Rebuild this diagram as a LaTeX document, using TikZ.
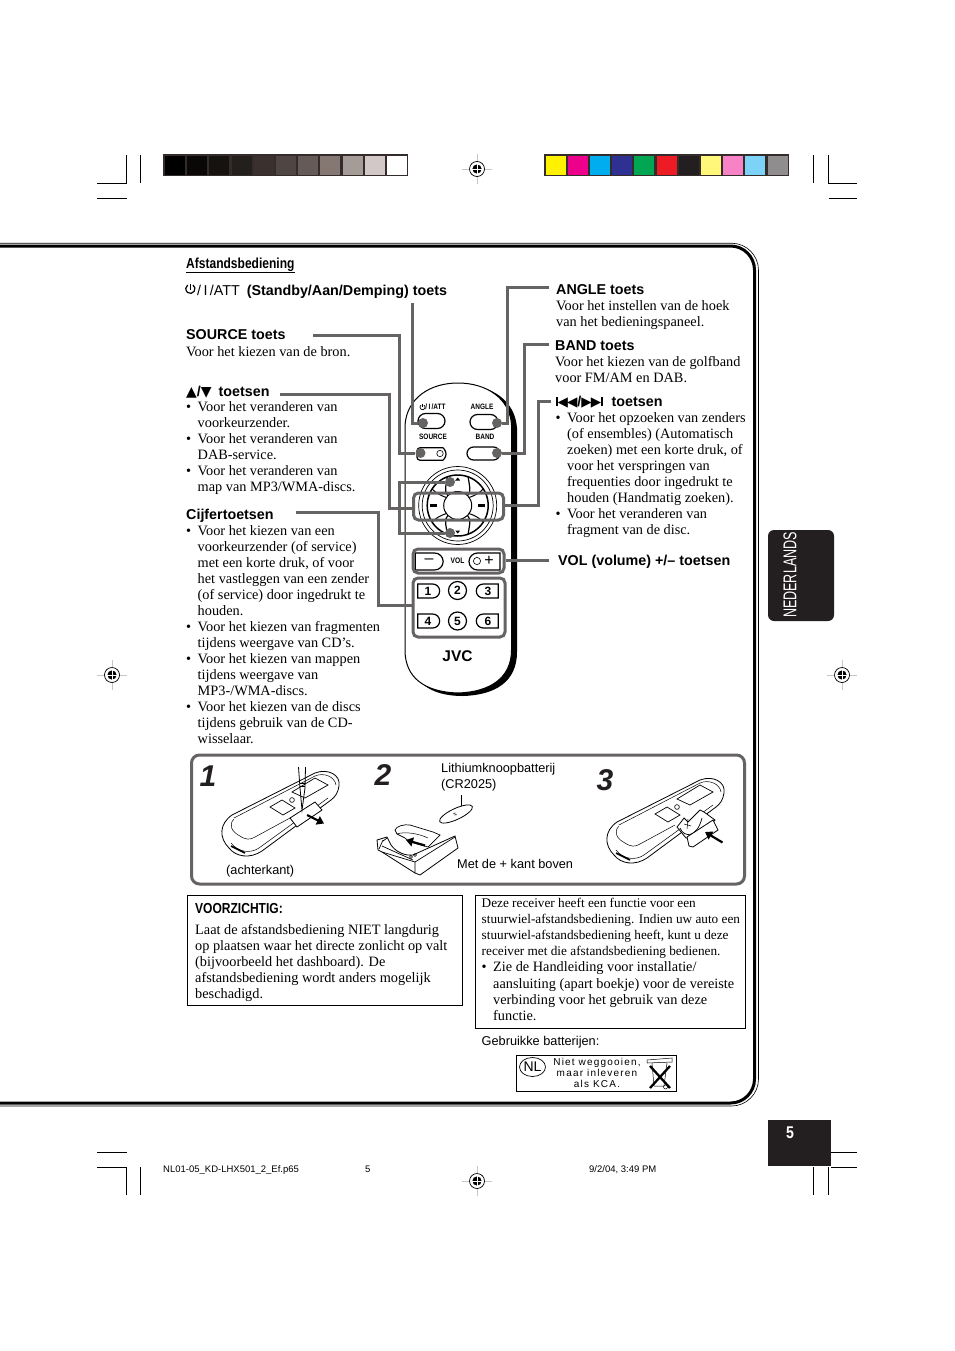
\documentclass[tikz,border=0pt]{standalone}
\usepackage{fontspec}
\usetikzlibrary{shapes.misc,shapes.geometric,arrows.meta}
\setmainfont{Liberation Serif}
\setsansfont{Liberation Sans}
\newfontfamily\dejavu{DejaVu Sans}
\newfontfamily\narrowb[FakeStretch=0.83]{Liberation Sans Bold}
\newfontfamily\narrowr[FakeStretch=0.68]{Liberation Sans}
\newfontfamily\kcafont[LetterSpace=12]{Liberation Sans}
\newfontfamily\bigit{Liberation Sans Bold Italic}
\newcommand{\bu}{\makebox[11.5pt][l]{•}}
\newcommand{\ind}{\hspace*{11.5pt}}
\newcommand{\tri}[1]{{\dejavu\fontsize{14}{14}\selectfont #1}}
\newcommand{\trs}[1]{{\dejavu\fontsize{13.5}{13}\selectfont #1}}
\newcommand{\tgt}[1]{{\fontsize{13.25}{16}\selectfont #1}}
\definecolor{conn}{HTML}{666363}
\definecolor{ink}{HTML}{231F20}
\definecolor{barf}{HTML}{332C2B}
\tikzset{
  x=1pt,y=-1pt,
  body/.style={font=\fontsize{14.3}{16}\selectfont,anchor=north west,inner sep=0pt,align=left,execute at begin node=\rule{0pt}{11pt}},
  head/.style={font=\fontsize{14.3}{16}\selectfont\sffamily\bfseries,anchor=base west,inner sep=0pt},
  small/.style={font=\fontsize{12.75}{16}\selectfont\sffamily,anchor=base west,inner sep=0pt},
  foot/.style={font=\fontsize{9.5}{10}\selectfont\sffamily,anchor=base west,inner sep=0pt},
  wire/.style={draw=conn,line width=3pt,line join=miter},
  frameb/.style={draw=conn,line width=3pt,rounded corners=5pt,fill=none},
  wdot/.style={circle,fill=conn,inner sep=0pt,minimum size=10pt},
  crop/.style={line width=0.8pt,draw=black},
  btn/.style={draw=black,line width=1.2pt,fill=white,rounded rectangle,inner sep=0pt,font=\fontsize{12}{12}\selectfont\sffamily\bfseries},
  rlabel/.style={inner sep=0pt,font=\fontsize{7.8}{8}\selectfont\narrowb},
  swatch/.style={minimum width=20pt,minimum height=19.5pt,inner sep=0pt,anchor=north west},
  hand/.style={line width=0.8pt,draw=black},
  bigarrow/.style={line width=2.2pt,-{Triangle[length=7pt,width=9pt]}},
  numeral/.style={font=\fontsize{30}{30}\selectfont\bigit,inner sep=0pt,text=ink},
}
\newcommand{\regmark}[2]{%
  \begin{scope}[shift={(#1,#2)}]
    \draw[line width=0.9pt,draw=black!22] (-15,0) -- (15,0) (0,-15) -- (0,15);
    \draw[line width=0.7pt,fill=white] (0,0) circle (7.5);
    \fill[black] (0,0) circle (4.6);
    \draw[white,line width=0.8pt] (-5,0) -- (5,0) (0,-5) -- (0,5);
  \end{scope}}
% remote seen from the back; drawn at the position of step 1, moved by #1,#2
\newcommand{\backremote}[2]{%
  \begin{scope}[shift={(#1,#2)}]
    \draw[hand,fill=white] (232,815) -- (315,773) .. controls (328,768) and (341,775) .. (339,786) .. controls (338,793) and (335,797) .. (331,800) -- (262,851) .. controls (250,859) and (236,857) .. (229,848) .. controls (219,838) and (219,824) .. (232,815) -- cycle;
    \draw[line width=0.5pt] (234,818) -- (315,776) .. controls (324,772) and (335,777) .. (336,785);
    \draw[line width=0.5pt] (234,819) .. controls (228,825) and (232,832) .. (240,836) .. controls (246,840) and (250,840) .. (255,837) -- (290,818);
    \draw[line width=0.5pt] (231,843) .. controls (238,852) and (250,854) .. (259,848) -- (328,798);
    \draw[line width=1.6pt] (231,846) -- (245,853);
    \draw[line width=0.7pt] (292,792) -- (315,778) -- (328,785) -- (305,798) -- cycle;
    \draw[line width=0.7pt] (270,807) -- (282,800) -- (295,808) -- (283,815) -- cycle;
    \draw[line width=0.6pt] (292,800) circle (2.4);
  \end{scope}}
\begin{document}
\begin{tikzpicture}
\useasboundingbox (0,0) rectangle (954,1351);
\fill[white] (0,0) rectangle (954,1351);

% colour bars
\fill[barf] (163,154) rectangle (408,176);
\foreach \i/\c in {0/000000,1/0A0807,2/151210,3/231F1D,4/3A302D,5/4F4542,6/665A56,7/857872,8/A59B97,9/D1C8C7,10/FFFFFF}{
  \definecolor{sw}{HTML}{\c}
  \node[swatch,fill=sw] (gs\i) at ({164.7+22.2*\i},155.7) {};
}
\fill[barf] (544,154) rectangle (789,176);
\foreach \i/\c in {0/FFF200,1/EC008C,2/00AEEF,3/2E3192,4/00A651,5/ED1C24,6/231F20,7/FFF77A,8/F782C5,9/7DD3F7,10/8F8D8E}{
  \definecolor{sw}{HTML}{\c}
  \node[swatch,fill=sw] (cs\i) at ({545.3+22.2*\i},155.7) {};
}
% crop marks
\draw[crop] (126.5,155) -- (126.5,183.5) -- (97,183.5);
\draw[crop] (140.5,155) -- (140.5,183);
\draw[crop] (97,198.5) -- (126.5,198.5);
\draw[crop] (813.5,155) -- (813.5,183);
\draw[crop] (828.5,155) -- (828.5,183.5) -- (857,183.5);
\draw[crop] (828.5,198.5) -- (857,198.5);
\draw[crop] (97,1152) -- (126.5,1152);
\draw[crop] (97,1167) -- (126.5,1167) -- (126.5,1195);
\draw[crop] (140.5,1167) -- (140.5,1195);
\draw[crop] (831,1152) -- (857,1152);
\draw[crop] (831,1167) -- (857,1167);
\draw[crop] (813.5,1167) -- (813.5,1195);
\draw[crop] (828.5,1167) -- (828.5,1195);
\regmark{477}{169}
\regmark{477}{1181}
\regmark{112}{675}
\regmark{842}{675}

% page frame
\draw[line width=3pt,rounded corners=24pt] (0,246) -- (754.5,246) -- (754.5,1103) -- (0,1103);
\draw[line width=0.6pt,rounded corners=27pt] (0,243.2) -- (758.5,243.2) -- (758.5,1106) -- (0,1106);

% side tab
\node[draw=none,fill=ink,rounded corners=6pt,minimum width=66pt,minimum height=91pt,inner sep=0pt] (tab) at (801,575.5) {};
\node[rotate=90,text=white,inner sep=0pt,font=\fontsize{18.5}{20}\selectfont\narrowr] (tabt) at (790,575) {NEDERLANDS};
\node[fill=ink,minimum width=63pt,minimum height=46pt,inner sep=0pt,anchor=north west] (pg) at (768,1120) {};
\node[text=white,inner sep=0pt,font=\fontsize{17}{18}\selectfont\narrowb] (pgt) at (790,1133) {5};
\node[foot] (f1) at (163,1172.5) {NL01-05\_KD-LHX501\_2\_Ef.p65};
\node[foot] (f2) at (365,1172.5) {5};
\node[foot] (f3) at (589,1172.5) {9/2/04, 3:49 PM};

% heading
\node[inner sep=0pt,anchor=base west,font=\fontsize{14.5}{16}\selectfont\narrowb] (title) at (186,268) {Afstandsbediening};
\draw[line width=0.8pt] (186,272.5) -- (295,272.5);

% left column
\draw[line width=1.2pt] (193,285) arc[start angle=-55,end angle=235,radius=4.6];
\draw[line width=1.2pt] (190.4,283.5) -- (190.4,290);
\node[small,font=\fontsize{14.3}{16}\selectfont\sffamily] (stby) at (197,295) {/\,I\,/ATT\hspace{3pt} \textbf{(Standby/Aan/Demping) toets}};
\node[head] (srch) at (186,339) {SOURCE toets};
\node[body] (srct) at (186,345) {Voor het kiezen van de bron.};
\node[head] (trih) at (186,396) {\tri{▲}/\tri{▼}\hspace{3pt} toetsen};
\node[body] (trit) at (186,401) {\bu Voor het veranderen van\\ \ind voorkeurzender.\\ \bu Voor het veranderen van\\ \ind DAB-service.\\ \bu Voor het veranderen van\\ \ind map van MP3/WMA-discs.};
\node[head] (numh) at (186,519) {Cijfertoetsen};
\node[body] (numt) at (186,525) {\bu Voor het kiezen van een\\ \ind voorkeurzender (of service)\\ \ind met een korte druk, of voor\\ \ind het vastleggen van een zender\\ \ind (of service) door ingedrukt te\\ \ind houden.\\ \bu Voor het kiezen van fragmenten\\ \ind tijdens weergave van CD’s.\\ \bu Voor het kiezen van mappen\\ \ind tijdens weergave van\\ \ind MP3-/WMA-discs.\\ \bu Voor het kiezen van de discs\\ \ind tijdens gebruik van de CD-\\ \ind wisselaar.};

% right column
\node[head] (angh) at (556,294) {ANGLE toets};
\node[body] (angt) at (556,300) {Voor het instellen van de hoek\\van het bedieningspaneel.};
\node[head] (banh) at (555,350) {BAND toets};
\node[body] (bant) at (555,356) {Voor het kiezen van de golfband\\voor FM/AM en DAB.};
\node[head] (skih) at (556,406) {\rule{1.5pt}{9pt}\trs{◀\kern-1pt◀}/\trs{▶\kern-1pt▶}\rule{1.5pt}{9pt}\hspace{5pt} toetsen};
\node[body] (skit) at (555.5,412) {\bu Voor het opzoeken van zenders\\ \ind (of ensembles) (Automatisch\\ \ind zoeken) met een korte druk, of\\ \ind voor het verspringen van\\ \ind frequenties door ingedrukt te\\ \ind houden (Handmatig zoeken).\\ \bu Voor het veranderen van\\ \ind fragment van de disc.};
\node[head] (volh) at (558,565) {VOL (volume) +/– toetsen};

% remote
\fill[black] (410,652) -- (410,428) .. controls (412,400) and (435,385) .. (463,385) .. controls (491,385) and (515,400) .. (517,428) -- (517,652) .. controls (517,682) and (495,695) .. (463,696) .. controls (430,696) and (410,682) .. (410,652) -- cycle;
\draw[line width=1pt,fill=white] (405,650) -- (405,425) .. controls (407,398) and (430,383) .. (458,383) .. controls (486,383) and (510,398) .. (511.5,425) -- (511.5,650) .. controls (511.5,678) and (490,692) .. (458,693) .. controls (425,692) and (405,678) .. (405,650) -- cycle;
\node[rlabel] (lbs) at (435.5,407) {/\,I\,/ATT};
\draw[line width=0.7pt] (424,405) arc[start angle=-55,end angle=235,radius=2.6];
\draw[line width=0.7pt] (422.5,404) -- (422.5,407);
\node[rlabel] (lba) at (482,407) {ANGLE};
\node[rlabel] (lbo) at (433,437) {SOURCE};
\node[rlabel] (lbb) at (485,437) {BAND};
\node[btn,minimum width=27pt,minimum height=15pt] (bstby) at (431.5,421) {};
\node[btn,minimum width=28pt,minimum height=15pt] (bang) at (484,422) {};
\node[btn,minimum width=29pt,minimum height=12.5pt,rounded rectangle left arc=none,rounded corners=3pt] (bsrc) at (431.5,454) {};
\draw[line width=0.6pt] (440,453.5) circle (3.2);
\node[btn,minimum width=33pt,minimum height=13pt] (bband) at (483.5,453.5) {};
% d-pad
\begin{scope}[shift={(457.7,505.5)}]
  \draw[line width=0.7pt] (0,0) circle (39);
  \draw[line width=0.7pt] (0,0) circle (35.5);
  \draw[line width=1.5pt] (0,0) circle (30.5);
  \draw[line width=1pt,fill=white] (0,0) circle (14);
  \draw[line width=1.2pt] (45:14) .. controls (45:20) and (62:24) .. (70:30.5);
  \draw[line width=1.2pt] (135:14) .. controls (135:20) and (118:24) .. (110:30.5);
  \draw[line width=1.2pt] (225:14) .. controls (225:20) and (242:24) .. (250:30.5);
  \draw[line width=1.2pt] (315:14) .. controls (315:20) and (298:24) .. (290:30.5);
  \draw[line width=1pt] (35:14) .. controls (30:20) and (30:26) .. (33:30.5);
  \draw[line width=1pt] (145:14) .. controls (150:20) and (150:26) .. (147:30.5);
  \draw[line width=1pt] (215:14) .. controls (210:20) and (210:26) .. (213:30.5);
  \draw[line width=1pt] (325:14) .. controls (330:20) and (330:26) .. (327:30.5);
  \fill (-2.5,-25) -- (2.5,-25) -- (0,-28) -- cycle;
  \fill (-2.5,25) -- (2.5,25) -- (0,28) -- cycle;
  \fill (-27.5,-1.2) rectangle (-20.5,1.2);
  \fill (20.5,-1.2) rectangle (27.5,1.2);
\end{scope}
% volume
\node[btn,minimum width=28pt,minimum height=17pt,rounded rectangle left arc=none,font=\fontsize{16}{16}\selectfont\sffamily] (bmin) at (429,561.5) {--};
\node[rlabel,font=\fontsize{8}{8}\selectfont\narrowb] (lbv) at (457.5,561) {VOL};
\node[btn,minimum width=31pt,minimum height=17pt,rounded rectangle right arc=none] (bpls) at (484.5,561.5) {};
\draw[line width=0.6pt] (477,561) circle (3.6);
\node[inner sep=0pt,font=\fontsize{16}{16}\selectfont\sffamily] (lbp) at (489,561) {+};
% number pad
\node[btn,minimum width=22pt,minimum height=14pt,rounded rectangle left arc=none] (n1) at (428,591) {1};
\node[btn,circle,minimum size=18pt] (n2) at (457.5,590.5) {2};
\node[btn,minimum width=22pt,minimum height=14pt,rounded rectangle right arc=none] (n3) at (488,591) {3};
\node[btn,minimum width=22pt,minimum height=14pt,rounded rectangle left arc=none] (n4) at (428,621) {4};
\node[btn,circle,minimum size=18pt] (n5) at (457.5,621) {5};
\node[btn,minimum width=22pt,minimum height=14pt,rounded rectangle right arc=none] (n6) at (488,621) {6};
\node[inner sep=0pt,font=\fontsize{15.5}{16}\selectfont\sffamily\bfseries] (jvc) at (457.5,656) {JVC};

% frames on remote
\node[frameb,minimum width=90pt,minimum height=27pt,inner sep=0pt] (fmid) at (458.5,506.5) {};
\node[frameb,minimum width=91pt,minimum height=24pt,inner sep=0pt] (fvol) at (458.5,561) {};
\node[frameb,minimum width=92pt,minimum height=59pt,inner sep=0pt] (fnum) at (459,607.5) {};

% connectors
\node[wdot] (dstby) at (423,423) {};
\node[wdot] (dang) at (497,423) {};
\node[wdot] (dsrc) at (420.5,453) {};
\node[wdot] (dband) at (497,453) {};
\node[wdot] (dup) at (450,482) {};
\node[wdot] (ddn) at (450,533) {};
\coordinate (c1) at (412,303);
\draw[wire] (c1) |- (dstby);
\coordinate (c2) at (313,335);
\coordinate (c2b) at (399,335);
\draw[wire] (c2) -- (c2b) |- (dsrc);
\coordinate (c3) at (280,394);
\coordinate (c3b) at (389.5,394);
\coordinate (c3c) at (389.5,508);
\coordinate (c3d) at (413.5,508);
\draw[wire] (c3) -- (c3b) -- (c3c) -- (c3d);
\coordinate (c4) at (399,482);
\coordinate (c4b) at (399,533);
\draw[wire] (dup) -- (c4) -- (c4b) -- (ddn);
\coordinate (c5) at (296,512);
\coordinate (c5b) at (378,512);
\coordinate (c5c) at (378,605);
\draw[wire] (c5) -- (c5b) -- (c5c) -- (fnum.west |- c5c);
\coordinate (c6) at (549,287);
\coordinate (c6b) at (507.5,287);
\draw[wire] (c6) -- (c6b) |- (dang);
\coordinate (c7) at (549,344);
\coordinate (c7b) at (524,344);
\draw[wire] (c7) -- (c7b) |- (dband);
\coordinate (c8) at (551,401);
\coordinate (c8b) at (538,401);
\coordinate (c8c) at (538,505.5);
\draw[wire] (c8) -- (c8b) -- (c8c) -- (fmid.east |- c8c);
\coordinate (c9) at (549,560);
\draw[wire] (c9) -- (fvol.east |- c9);

% battery panel
\node[draw=conn,line width=3pt,rounded corners=8pt,minimum width=553pt,minimum height=129pt,inner sep=0pt,anchor=north west] (panel) at (190,753.5) {};
\node[numeral] (s1) at (208,776) {1};
\node[numeral] (s2) at (383,775) {2};
\node[numeral] (s3) at (605,780) {3};
\node[small] (ach) at (226,874) {(achterkant)};
\node[small,align=left,anchor=north west,font=\fontsize{12.75}{16}\selectfont\sffamily,execute at begin node=\rule{0pt}{10pt}] (lit) at (441,763) {Lithiumknoopbatterij\\(CR2025)};
\node[small] (met) at (457,868) {Met de + kant boven};

% step 1
\backremote{0}{0}
\draw[hand,fill=white] (290,818) -- (315,802) -- (322,810) -- (297,827) -- cycle;
\draw[hand] (298.5,767) -- (300,788) -- (302,810) -- (305,788) -- (305.5,767);
\draw[line width=0.5pt] (300,783) -- (305,783) (300,786) -- (305,786);
\draw[bigarrow] (307,815) -- (324,823.5);

% step 2
\draw[hand,fill=white,rotate around={25:(456,814)}] (456,814) ellipse (18 and 5.5);
\draw[line width=0.5pt] (461.7,795) -- (461.7,806);
\draw[line width=0.4pt] (453,813) -- (457,815) (455,812) -- (455,816);
\draw[hand,fill=white] (377,840) -- (387,837) -- (391,845) .. controls (396,852) and (405,856) .. (413,855) -- (455,836) -- (458,848) -- (420,875) -- (415,873) -- (382,852) -- (378,850) -- cycle;
\draw[line width=0.7pt] (379,849) -- (383,840) (383,841) -- (387,838);
\draw[line width=0.7pt] (415,862) -- (455,837);
\draw[line width=0.7pt] (382,852) -- (415,862) -- (415,873);
\draw[line width=0.7pt] (382,846) -- (413,860);
\draw[line width=0.7pt,fill=white] (395,830) .. controls (396,826) and (405,824) .. (410,825) -- (433,832) -- (440,835) -- (428,847) .. controls (418,844) and (408,842) .. (405,838) -- (397,834) -- cycle;
\draw[line width=0.5pt] (397,834) .. controls (405,831) and (420,834) .. (428,838);
\draw[bigarrow] (425,845.5) -- (406,840);
\draw[line width=0.5pt] (415,855) circle (1.5) (411,857) circle (1.5);

% step 3
\backremote{385}{7}
\draw[hand,fill=white] (677,827) -- (681,822) -- (684,818) -- (688,822) -- (700,810) -- (704,812) -- (715,820) -- (709,826) -- (688,838) -- (686,838) -- cycle;
\draw[line width=0.7pt] (680,828) .. controls (684,838) and (697,838) .. (702,818);
\draw[line width=0.5pt] (688,819) -- (687,829) (684,824) -- (691,826);
\draw[hand,fill=white] (687,837) -- (713,820) -- (718,830) -- (693,847) -- (689,846) -- cycle;
\draw[bigarrow] (722.5,842.5) -- (705,832);

% note boxes
\node[draw=black,line width=0.8pt,minimum width=275pt,minimum height=110pt,inner sep=0pt,anchor=north west] (box1) at (187,895) {};
\node[inner sep=0pt,anchor=base west,font=\fontsize{14.5}{16}\selectfont\narrowb] (vz) at (195,913) {VOORZICHTIG:};
\node[body] (box1t) at (195,924) {Laat de afstandsbediening NIET langdurig\\op plaatsen waar het directe zonlicht op valt\\(bijvoorbeeld het dashboard). De\\afstandsbediening wordt anders mogelijk\\beschadigd.};
\node[draw=black,line width=0.8pt,minimum width=270pt,minimum height=133pt,inner sep=0pt,anchor=north west] (box2) at (475,895) {};
\node[body,font=\fontsize{14.3}{16.2}\selectfont] (box2t) at (481.5,897.5) {\tgt{Deze receiver heeft een functie voor een}\\\tgt{stuurwiel-afstandsbediening. Indien uw auto een}\\\tgt{stuurwiel-afstandsbediening heeft, kunt u deze}\\\tgt{receiver met die afstandsbediening bedienen.}\\\bu Zie de Handleiding voor installatie/\\\ind aansluiting (apart boekje) voor de vereiste\\\ind verbinding voor het gebruik van deze\\\ind functie.};
\node[small] (geb) at (481.5,1045.5) {Gebruikke batterijen:};

% KCA
\node[draw=black,line width=0.8pt,minimum width=160pt,minimum height=36pt,inner sep=0pt,anchor=north west] (kca) at (516,1055) {};
\node[ellipse,draw=black,line width=0.7pt,minimum width=26pt,minimum height=19pt,inner sep=0pt,font=\fontsize{14}{14}\selectfont\sffamily] (nl) at (532.5,1067) {NL};
\node[inner sep=0pt,align=center,font=\fontsize{10}{10.6}\selectfont\kcafont] (kcat) at (597,1073) {Niet weggooien,\\maar inleveren\\als KCA.};
\draw[line width=0.5pt] (647,1060) -- (672,1058) -- (672,1062) -- (647,1063) -- cycle;
\draw[line width=0.5pt] (652,1063) -- (654,1086) -- (664,1086) -- (667,1063);
\draw[line width=0.5pt] (665.5,1087) circle (2);
\draw[line width=2.3pt] (650,1066) -- (670,1088) (670,1066) -- (650,1088);
\end{tikzpicture}
\end{document}
